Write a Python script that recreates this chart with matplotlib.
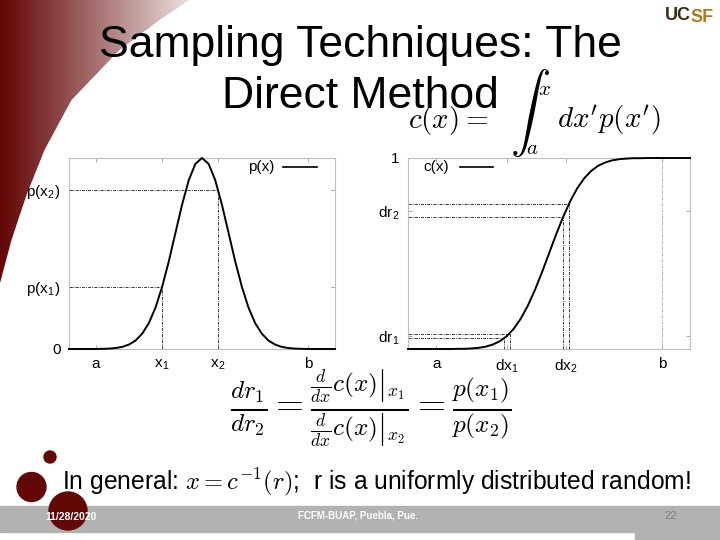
import numpy as np
import matplotlib
matplotlib.use('Agg')
import matplotlib.pyplot as plt
from matplotlib.patches import Rectangle, Circle

plt.rcParams['font.family'] = ['Liberation Sans', 'DejaVu Sans']
plt.rcParams['mathtext.fontset'] = 'cm'

# ---------------- data ----------------
x_vals = [0.0, 0.25, 0.5, 0.75, 1.0, 1.25, 1.5, 1.75, 2.0, 2.25, 2.5, 2.75,
          3.0, 3.25, 3.5, 3.75, 4.0, 4.25, 4.5, 4.75, 5.0, 5.25, 5.5, 5.75,
          6.0, 6.25, 6.5, 6.75, 7.0, 7.25, 7.5, 7.75, 8.0, 8.25, 8.5, 8.75,
          9.0, 9.25, 9.5, 9.75, 10.0]
p_vals = [0.000, 0.000, 0.000, 0.000, 0.000, 0.001, 0.002, 0.005, 0.011, 0.023,
          0.044, 0.080, 0.135, 0.216, 0.325, 0.458, 0.607, 0.755, 0.883, 0.969,
          1.000, 0.969, 0.883, 0.755, 0.607, 0.458, 0.325, 0.216, 0.135, 0.080,
          0.044, 0.023, 0.011, 0.005, 0.002, 0.001, 0.000, 0.000, 0.000, 0.000,
          0.000]
c_vals = [0.000, 0.000, 0.000, 0.000, 0.000, 0.000, 0.000, 0.001, 0.001, 0.003,
          0.006, 0.012, 0.023, 0.040, 0.067, 0.106, 0.159, 0.227, 0.309, 0.401,
          0.500, 0.599, 0.691, 0.773, 0.841, 0.894, 0.933, 0.960, 0.977, 0.988,
          0.994, 0.997, 0.999, 0.999, 1.000, 1.000, 1.000, 1.000, 1.000, 1.000,
          1.000]

# left panel markers
x1, x2 = 3.5, 5.6
p_x1, p_x2 = 0.325, 0.835
left_xticks = [1.0, 3.5, 5.6, 9.0]
left_xlabels = ['a', r'x$_\mathregular{1}$', r'x$_\mathregular{2}$', 'b']
left_yticks = [0.0, 0.325, 0.835]
left_ylabels = ['0', r'p(x$_\mathregular{1}$)', r'p(x$_\mathregular{2}$)']

# right panel markers
dx1_lo, dx1_hi = 3.4, 3.6
dx2_lo, dx2_hi = 5.5, 5.7
c_dx1_lo, c_dx1_hi = 0.055, 0.081
c_dx2_lo, c_dx2_hi = 0.691, 0.758
b_val = 9.0
right_xticks = [1.0, 3.5, 5.6, 9.0]
right_xlabels = ['a', r'dx$_\mathregular{1}$', r'dx$_\mathregular{2}$', 'b']
right_yticks = [0.068, 0.7245, 1.0]
right_ylabels = [r'dr$_\mathregular{1}$', r'dr$_\mathregular{2}$', '1']

# ---------------- figure ----------------
fig = plt.figure(figsize=(7.2, 5.4), dpi=100)
bg = fig.add_axes([0, 0, 1, 1], zorder=0)

# decorative gradient swoosh (top-left)
H, W = 540, 720
yy, xx = np.mgrid[0:H, 0:W] + 0.5
by = [0, 20, 50, 100, 150, 195, 240, 285]
bx = [190, 160, 120, 72, 45, 27, 12, 0]
xb = np.interp(yy[:, 0], by, bx)
alpha = np.clip(xb[:, None] - xx, 0, 1)
t = np.clip(xx / 215.0, 0, 1) ** 1.05
dark = np.array([0.39, 0.02, 0.02])
rgb = dark * (1 - t[..., None]) + t[..., None]
img = np.dstack([rgb, alpha])
bg.imshow(img, extent=(0, 720, 540, 0), interpolation='bilinear', aspect='auto', zorder=0)
bg.set_xlim(0, 720)
bg.set_ylim(540, 0)
bg.axis('off')

# footer bar
bar_col = '#b2b2b2'
bg.add_patch(Rectangle((0, 506), 720, 26, color=bar_col, zorder=1))
bg.add_patch(Rectangle((635, 531), 85, 9, color=bar_col, zorder=1))
maroon = '#620606'
for (cx, cy, r) in [(50, 457, 6), (31.5, 487, 14.5), (68, 511, 19)]:
    bg.add_patch(Circle((cx, cy), r, color=maroon, zorder=2))

bg.text(71, 517, '11/28/2020', color='white', fontsize=7.5, fontweight='bold',
        ha='center', va='center', zorder=3)
bg.text(358, 516, 'FCFM-BUAP, Puebla, Pue.', color='white', fontsize=7,
        fontweight='bold', ha='center', va='center', zorder=3)
bg.text(671, 516, '22', color='#7f7f7f', fontsize=8, ha='center', va='center', zorder=3)

# logo
bg.text(665, 15, 'UC', fontsize=13, fontweight='bold', color='#3b2a12',
        ha='left', va='center', zorder=3)
bg.text(690, 17, 'SF', fontsize=13, fontweight='bold', color='#b07820',
        ha='left', va='center', zorder=3)

# title
bg.text(360, 57, 'Sampling Techniques: The', fontsize=32, ha='center', va='baseline', zorder=3)
bg.text(360, 108, 'Direct Method', fontsize=32, ha='center', va='baseline', zorder=3)

# c(x) formula
bg.text(408, 128, r'$c(x) =$', fontsize=21, ha='left', va='baseline', zorder=3)
bg.text(530, 113, r'$\int$', fontsize=29, ha='center', va='center', zorder=3)
bg.text(538, 95, r'$x$', fontsize=15, ha='left', va='baseline', zorder=3)
bg.text(526, 154, r'$a$', fontsize=15, ha='left', va='baseline', zorder=3)
bg.text(557, 128, r"$dx'p(x')$", fontsize=21, ha='left', va='baseline', zorder=3)

# ratio formula
bg.text(371, 409,
        r'$\frac{dr_1}{dr_2} = \frac{\left.\frac{d}{dx}c(x)\right|_{x_1}}'
        r'{\left.\frac{d}{dx}c(x)\right|_{x_2}} = \frac{p(x_1)}{p(x_2)}$',
        fontsize=26, ha='center', va='center', zorder=3)

# bottom statement
bg.text(62, 489, r'In general: $x = c^{-1}(r)$;  r is a uniformly distributed random!',
        fontsize=17.7, ha='left', va='baseline', zorder=3)

# ---------------- plot panels ----------------
frame_col = '#bdbdbd'
guide = dict(color='#333333', lw=0.7, ls=(0, (3, 1.2, 1, 1.2)))


def style(ax):
    ax.set_facecolor('none')
    for s in ax.spines.values():
        s.set_color(frame_col)
        s.set_linewidth(0.8)
    ax.tick_params(direction='in', length=3, width=0.6, color='#999999',
                   top=True, right=True, labelsize=11, pad=6)
    ax.set_xlim(0, 10)
    ax.set_ylim(0, 1)


axL = fig.add_axes([69 / 720, 1 - 349 / 540, 266 / 720, 191 / 540], zorder=1)
style(axL)
axL.plot([0, x2], [p_x2, p_x2], **guide)
axL.plot([0, x1], [p_x1, p_x1], **guide)
axL.plot([x1, x1], [0, p_x1], **guide)
axL.plot([x2, x2], [0, p_x2], **guide)
axL.plot(x_vals, p_vals, color='black', lw=1.4, clip_on=False, zorder=5)
axL.set_xticks(left_xticks)
axL.set_xticklabels(left_xlabels)
axL.set_yticks(left_yticks)
axL.set_yticklabels(left_ylabels)
axL.text(0.774, 0.953, 'p(x)', transform=axL.transAxes, ha='right', va='center', fontsize=11)
axL.plot([0.805, 0.932], [0.953, 0.953], transform=axL.transAxes, color='black', lw=1.2)

axR = fig.add_axes([408 / 720, 1 - 349 / 540, 282 / 720, 191 / 540], zorder=1)
style(axR)
for lo, hi, clo, chi in [(dx1_lo, dx1_hi, c_dx1_lo, c_dx1_hi),
                         (dx2_lo, dx2_hi, c_dx2_lo, c_dx2_hi)]:
    axR.plot([0, hi], [chi, chi], **guide)
    axR.plot([0, lo], [clo, clo], **guide)
    axR.plot([lo, lo], [0, clo], **guide)
    axR.plot([hi, hi], [0, chi], **guide)
axR.plot([b_val, b_val], [0, 1], color='#aaaaaa', lw=0.7, ls=(0, (3, 1.2, 1, 1.2)))
axR.plot(x_vals, c_vals, color='black', lw=1.4, clip_on=False, zorder=5)
axR.set_xticks(right_xticks)
axR.set_xticklabels(right_xlabels)
axR.set_yticks(right_yticks)
axR.set_yticklabels(right_ylabels)
axR.text(0.053, 0.953, 'c(x)', transform=axR.transAxes, ha='left', va='center', fontsize=11)
axR.plot([0.184, 0.301], [0.953, 0.953], transform=axR.transAxes, color='black', lw=1.2)

fig.savefig('out.png', dpi=100)
